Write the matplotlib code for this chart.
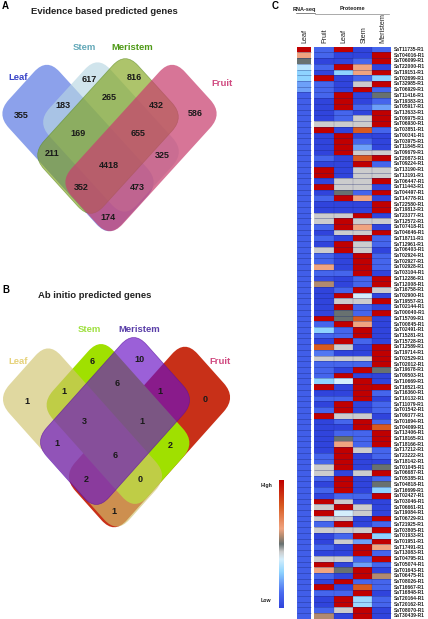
import numpy as np
import matplotlib
matplotlib.use('Agg')
import matplotlib.pyplot as plt
from matplotlib.colors import LinearSegmentedColormap
from matplotlib.patches import FancyBboxPatch
from matplotlib.transforms import Affine2D

plt.rcParams['font.family'] = ['Liberation Sans', 'DejaVu Sans']

# venn counts
counts_a = [355, 617, 816, 586, 183, 265, 432, 169, 655, 211, 4418, 325, 352, 473, 174]
counts_b = [1, 6, 10, 0, 1, 6, 1, 3, 1, 1, 6, 2, 2, 0, 1]
set_names = ['Leaf', 'Stem', 'Meristem', 'Fruit']

genes = [
    '11735', '04016', '06099', '22000', '19151', '02699', '32985', '06929', '11416', '19383',
    '05917', '13633', '09975', '06930', '03851', '00341', '03975', '11845', '09679', '20873',
    '09224', '13190', '13191', '06447', '11443', '04497', '14778', '22580', '19813', '23377',
    '12572', '07418', '04646', '18711', '12961', '06403', '02924', '02927', '02928', '03104',
    '12286', '12008', '16758', '02900', '19557', '02144', '00040', '15709', '00845', '02491',
    '15281', '15728', '12589', '19714', '02529', '02012', '19678', '09503', '10669', '16521',
    '16360', '10132', '11079', '01542', '09377', '01694', '04099', '13406', '18165', '18166',
    '17212', '23222', '18142', '01045', '06687', '05385', '04818', '16699', '02427', '03046',
    '06661', '19084', '06729', '21925', '03805', '01933', '01951', '17491', '13083', '04795',
    '05074', '01643', '06475', '08026', '16667', '16848', '20164', '20162', '08070', '30439',
]

# expression levels, 0 = low, 1 = high
rna_leaf = [1, .62, .5, .34, .28, .28, .2, .2] + [.08] * 92
fruit = [
    .1, .1, 0, .1, 0, 1, .1, .1, .1, 0, 0, 0, 0, .44, 1, 0, 0, 0, 0, .1,
    0, 1, 1, 0, 1, 0, .1, 0, 0, .44, .44, .1, 0, .1, 0, .44, .1, .1, .62, .1,
    .03, .56, 0, 0, 0, 0, 0, 1, .1, .28, .1, 0, .8, .14, .44, .1, .1, .1, .28, 1,
    0, .1, 0, .1, 1, 0, 0, 0, 0, 0, 0, .1, .1, .44, .44, .1, 0, .1, 0, 1,
    .44, 1, .44, .1, .44, 0, 0, .1, 0, .44, 1, .62, .1, 0, 1, .1, 0, 0, .1, .56,
]
leaf = [
    1, 0, 0, 1, .28, 0, 0, 0, 1, 1, 1, .1, .1, .44, 0, 1, 1, 1, 1, 0,
    0, 0, 0, .44, .44, .5, 1, 0, 0, .44, 1, 1, .44, 0, 1, 1, 0, 0, 0, .1,
    0, 0, .1, 1, .44, 1, .5, .5, 1, .1, .1, 1, .44, 0, .44, .1, 0, 1, .38, 0,
    0, .1, 1, 1, .44, .1, 0, .1, .5, .62, 1, 1, 1, 1, 0, 1, 1, 1, .1, .44,
    1, .38, .44, 1, .44, .1, .44, 0, 0, .44, 0, .5, 0, 1, 0, .1, 1, 1, .44, 0,
]
stem = [
    0, 0, .1, .62, .62, .1, .44, 1, 0, 0, .1, 0, .44, .44, .8, 0, .1, .2, .44, .8,
    1, .44, .44, .44, .44, .1, .62, 0, 0, 1, .44, .62, .44, 1, .44, .44, 1, 1, 1, 1,
    .1, .1, 1, .38, .44, .1, .1, .8, .62, 1, 1, .1, 0, 0, .44, .1, 1, 0, 1, 1,
    1, 1, 0, 0, .44, 1, 1, .1, .1, .1, .44, 0, 0, 0, .44, 0, 0, 0, .1, 0,
    .44, .44, 0, 0, .44, 1, .2, 1, 1, .1, .2, 1, 1, .1, .8, 1, .3, .3, 1, 1,
]
meristem = [
    .1, 1, 1, 0, 1, .28, 1, .1, .5, .1, .2, 1, 1, 1, .1, 0, 0, 0, .44, 1,
    .1, .44, .44, 1, 0, 1, 0, 1, 1, 0, .44, 0, 1, .1, .1, 0, .1, .1, .1, 0,
    1, 1, .44, 0, 1, 0, 1, 0, 0, 0, 0, 0, 1, 1, 1, 1, .5, 0, 0, 1,
    .1, 0, .1, .1, 0, .1, .8, 1, 1, 1, .1, .1, 0, .5, 1, .1, .5, .28, 1, 0,
    0, 0, 1, .1, 1, .28, 1, .62, .1, 1, .1, 0, .56, .1, .1, 0, .1, .1, 0, 0,
]

cmap = LinearSegmentedColormap.from_list('expr', [
    (0, '#3044dc'), (.12, '#4a6cf0'), (.28, '#8fd4ff'), (.38, '#d4eefc'), (.44, '#cccccc'),
    (.5, '#667070'), (.56, '#b08a70'), (.62, '#f0a480'), (.8, '#d85a20'), (1, '#c00000'),
])


def rounded_rect(ax, cx, cy, length, width, angle, color, alpha, edge=None, stretch=1.1):
    r = 18
    box = FancyBboxPatch((-length / 2 + r, -width / 2 + r), length - 2 * r, width - 2 * r,
                         boxstyle=f'round,pad={r},rounding_size={r}', facecolor=color, alpha=alpha,
                         edgecolor=edge if edge else 'none', linewidth=0.5)
    # the shapes in the figure are a bit taller than wide
    box.set_transform(Affine2D().rotate_deg(angle).scale(1, stretch).translate(cx, cy) + ax.transData)
    ax.add_patch(box)


fig = plt.figure(figsize=(4.28, 6.19), dpi=100)
ax = fig.add_axes([0, 0, 1, 1])
ax.set_xlim(0, 428)
ax.set_ylim(619, 0)
ax.axis('off')

# panel A
rounded_rect(ax, 78, 148, 160, 72, 45, '#6f8ae6', 0.8)
rounded_rect(ax, 111, 137, 124, 86, 45, '#b8d6e2', 0.65)
rounded_rect(ax, 108, 136, 133, 84, -45, '#7ba010', 0.62, '#5a8a20')
rounded_rect(ax, 141, 148, 160, 72, -45, '#c8406f', 0.72)

pos_a = [(21, 116), (89, 79), (134, 78), (195, 114), (63, 106), (109, 98), (156, 106), (78, 134),
         (138, 134), (52, 154), (109, 166), (162, 156), (81, 188), (137, 188), (108, 217)]
for (x, y), c in zip(pos_a, counts_a):
    ax.text(x, y, str(c), ha='center', va='center', fontsize=6.5, fontweight='bold', color='#1a1a1a')

ax.text(2, 6, 'A', ha='left', va='center', fontsize=7, fontweight='bold')
ax.text(104, 11, 'Evidence based predicted genes', ha='center', va='center', fontsize=6.8, fontweight='bold', color='#222222')
for name, (x, y), col in zip(set_names, [(18, 77), (84, 48), (132, 48), (222, 84)],
                             ['#3a45c8', '#62a8b8', '#4f9a18', '#d04a80']):
    ax.text(x, y, name, ha='center', va='center', fontsize=6.8, fontweight='bold', color=col)

# panel B
rounded_rect(ax, 149.5, 437, 173, 73, -45, '#c83018', 1, stretch=1.12)
rounded_rect(ax, 118, 424, 134, 86, 45, '#a0e000', 1, stretch=1.12)
rounded_rect(ax, 82.5, 437.5, 170, 73, 45, '#d0c36d', 0.65, stretch=1.12)
rounded_rect(ax, 115, 421, 141, 88, -45, '#6a12c5', 0.67, '#5a10a0', stretch=1.12)

pos_b = [(27, 402), (92, 362), (139, 359), (205, 400), (64, 391), (117, 383), (160, 391), (84, 422),
         (142, 421), (57, 443), (115, 455), (170, 445), (86, 479), (140, 479), (114, 511)]
for (x, y), c in zip(pos_b, counts_b):
    ax.text(x, y, str(c), ha='center', va='center', fontsize=6.5, fontweight='bold', color='#1a1a1a')

ax.text(2, 290, 'B', ha='left', va='center', fontsize=7, fontweight='bold')
ax.text(95, 295, 'Ab initio predicted genes', ha='center', va='center', fontsize=6.8, fontweight='bold', color='#222222')
for name, (x, y), col in zip(set_names, [(18, 361), (89, 330), (139, 330), (220, 361)],
                             ['#e6d27a', '#9fe040', '#5a3fa8', '#d04a80']):
    ax.text(x, y, name, ha='center', va='center', fontsize=6.8, fontweight='bold', color=col)

# panel C
n = len(genes)
y_edges = 46.7 + 5.72 * np.arange(n + 1)
col_edges = np.linspace(314.5, 391, 5)
ax.pcolormesh([297.3, 310.7], y_edges, np.array(rna_leaf).reshape(-1, 1), cmap=cmap, vmin=0, vmax=1)
prot = np.column_stack([fruit, leaf, stem, meristem])
ax.pcolormesh(col_edges, y_edges, prot, cmap=cmap, vmin=0, vmax=1)
for x0, x1 in [(297.3, 310.7), (314.5, 391)]:
    ax.hlines(y_edges[1:-1], x0, x1, color='#16206a', lw=0.4, alpha=0.55)
ax.vlines(col_edges[1:-1], y_edges[0], y_edges[-1], color='#16206a', lw=0.3, alpha=0.4)

for i, g in enumerate(genes):
    ax.text(394, y_edges[i] + 2.86, f'SaT{g}-R1', ha='left', va='center', fontsize=3.6, fontweight='bold', color='#222222')

for name, x in zip(['Leaf', 'Fruit', 'Leaf', 'Stem', 'Meristem'], [305, 325, 344, 364, 383]):
    ax.text(x, 43, name, rotation=90, ha='center', va='bottom', fontsize=5.2, color='#222222')

ax.text(275, 6, 'C', ha='center', va='center', fontsize=7, fontweight='bold')
ax.text(304, 9, 'RNA-seq', ha='center', va='center', fontsize=4, fontweight='bold', color='#222222')
ax.text(352, 9, 'Proteome', ha='center', va='center', fontsize=4, fontweight='bold', color='#222222')
ax.plot([296, 315], [12.5, 12.5], color='#555555', lw=0.5)
ax.plot([315, 389], [13.5, 13.5], color='#888888', lw=0.5)

# colour bar
ax.imshow(np.linspace(1, 0, 256).reshape(-1, 1), cmap=cmap, vmin=0, vmax=1, aspect='auto',
          extent=(279, 284, 608, 480), interpolation='bilinear')
ax.set_xlim(0, 428)
ax.set_ylim(619, 0)
ax.text(261, 486, 'High', ha='left', va='center', fontsize=3.8, fontweight='bold', color='#222222')
ax.text(261, 601, 'Low', ha='left', va='center', fontsize=3.8, fontweight='bold', color='#222222')

fig.savefig('out.png', dpi=100)
